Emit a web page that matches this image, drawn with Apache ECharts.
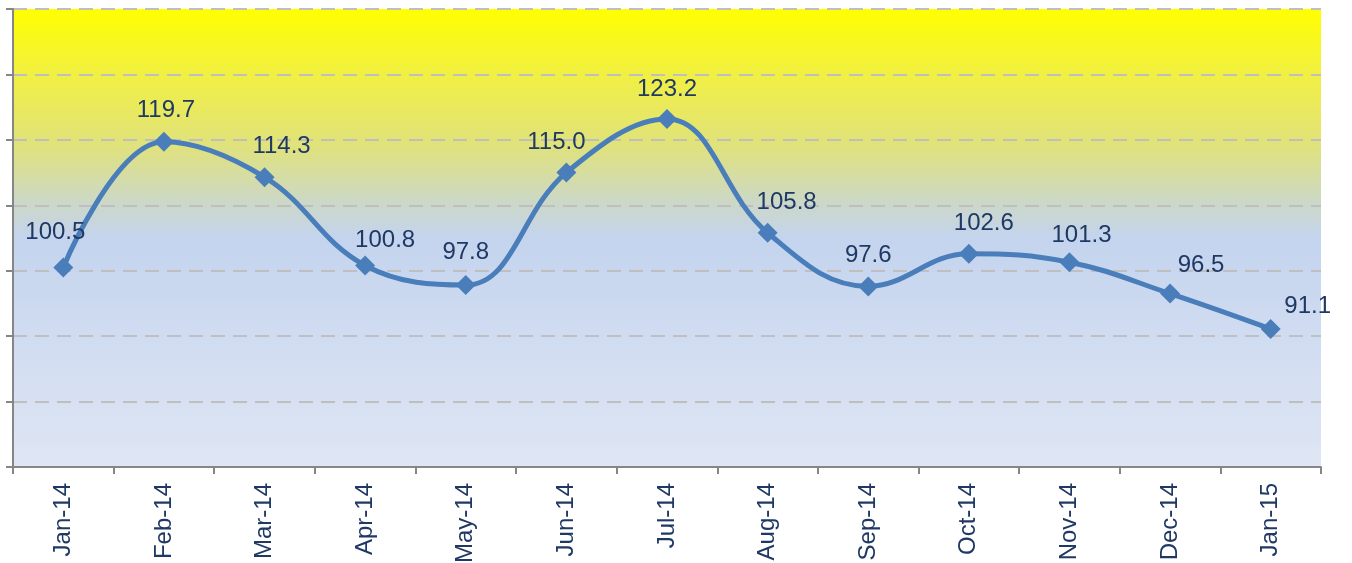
<!DOCTYPE html>
<html lang="en">
<head>
    <meta charset="UTF-8">
    <title>Index chart</title>
    <script src="https://cdn.jsdelivr.net/npm/echarts@6/dist/echarts.min.js"></script>
    <style>
        html, body { margin: 0; padding: 0; background: #fff; }
        .chart { width: 1352px; height: 563px; }
    </style>
</head>
<body>
    <div class="chart"></div>
<script>
    var months = ['Jan-14', 'Feb-14', 'Mar-14', 'Apr-14', 'May-14', 'Jun-14', 'Jul-14',
        'Aug-14', 'Sep-14', 'Oct-14', 'Nov-14', 'Dec-14', 'Jan-15'];
    var values = [100.5, 119.7, 114.3, 100.8, 97.8, 115.0, 123.2, 105.8, 97.6, 102.6, 101.3, 96.5, 91.1];

    // where each data label sits relative to its marker (px)
    var labelShift = [[-8, -4], [2, 0], [17, 0], [20, 6], [0, -2], [-10, 1], [0, 1],
        [19, 1], [0, 0], [15, 1], [12, 4], [31, 3], [37, 8]];

    var seriesData = [];
    for (var i = 0; i < values.length; i++) {
        seriesData.push({
            value: values[i],
            label: { offset: labelShift[i] }
        });
    }

    var myChart = echarts.init(document.querySelector('.chart'));
    var option = {
        animation: false,
        grid: {
            left: 13,
            right: 31,
            top: 9,
            bottom: 96,
            outerBoundsMode: 'none',
            containLabel: false,
            show: true,
            borderWidth: 0,
            backgroundColor: {
                type: 'linear', x: 0, y: 0, x2: 0, y2: 1,
                colorStops: [
                    { offset: 0, color: '#ffff00' },
                    { offset: 0.15, color: '#f0ef45' },
                    { offset: 0.3, color: '#e0e27c' },
                    { offset: 0.42, color: '#ccd8c6' },
                    { offset: 0.5, color: '#c4d4ee' },
                    { offset: 1, color: '#dfe6f4' }
                ]
            }
        },
        xAxis: {
            type: 'category',
            data: months,
            boundaryGap: true,
            axisLine: { lineStyle: { color: '#868686', width: 2 } },
            axisTick: { show: true, length: 7, lineStyle: { color: '#868686', width: 2 } },
            axisLabel: {
                rotate: 90,
                margin: 16,
                color: '#1f3864',
                fontFamily: 'Liberation Sans, Arial',
                fontSize: 24
            },
            splitLine: { show: false }
        },
        yAxis: {
            type: 'value',
            min: 70,
            max: 140,
            interval: 10,
            axisLine: { show: true, lineStyle: { color: '#868686', width: 2 } },
            axisTick: { show: true, length: 7, lineStyle: { color: '#868686', width: 2 } },
            axisLabel: { show: false },
            splitLine: {
                show: true,
                lineStyle: { color: '#bfbfbf', width: 2, type: [14, 8] }
            }
        },
        series: [{
            type: 'line',
            data: seriesData,
            smooth: 0.4,
            symbol: 'diamond',
            symbolSize: [20, 20],
            lineStyle: { color: '#4a7ebb', width: 5 },
            itemStyle: { color: '#4a7ebb' },
            label: {
                show: true,
                position: 'top',
                distance: 9,
                color: '#1f3864',
                fontFamily: 'Liberation Sans, Arial',
                fontSize: 24,
                formatter: function (p) { return p.value.toFixed(1); }
            }
        }]
    };
    myChart.setOption(option);
</script>
</body>
</html>
